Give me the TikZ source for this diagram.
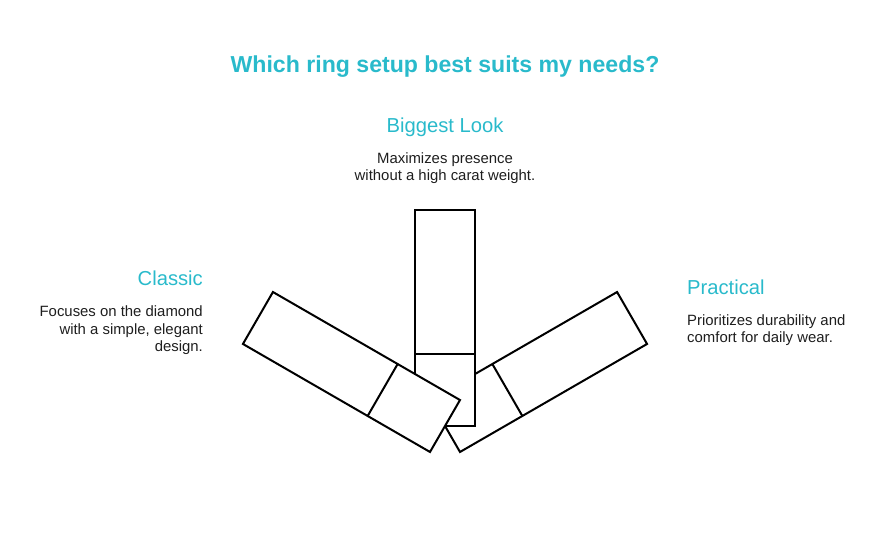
\documentclass[tikz,border=0pt]{standalone}
\usepackage{fontspec}
\setmainfont{Liberation Sans}
\definecolor{teal1}{HTML}{29BACB}
\definecolor{ink}{HTML}{1E1E1E}
\begin{document}
\begin{tikzpicture}[x=1pt,y=1pt,
  ringline/.style={draw=black,line width=2pt,line join=miter,fill=white},
  title/.style={font=\fontsize{23.1}{28}\selectfont\bfseries,text=teal1,inner sep=0},
  head/.style={font=\fontsize{20.2}{24}\selectfont,text=teal1,inner sep=0},
  desc/.style={font=\fontsize{14.9}{17.3}\selectfont,text=ink,inner sep=0}]
\useasboundingbox (0,0) rectangle (890,559);
\coordinate (pivot) at (445,133);
% right ring (drawn first, underneath)
\begin{scope}[rotate around={-60:(pivot)}]
  \draw[ringline] (415,133) rectangle (475,349);
  \draw[ringline] (415,205) -- (475,205);
\end{scope}
% vertical ring
\draw[ringline] (415,133) rectangle (475,349);
\draw[ringline] (415,205) -- (475,205);
% left ring (on top)
\begin{scope}[rotate around={60:(pivot)}]
  \draw[ringline] (415,133) rectangle (475,349);
  \draw[ringline] (415,205) -- (475,205);
\end{scope}
% texts (multi-line nodes: base = last line baseline)
\node[title,anchor=base] (t) at (445,559-73) {Which ring setup best suits my needs?};
\node[head,anchor=base] (bh) at (445,559-133) {Biggest Look};
\node[desc,anchor=base,align=center] (bd) at (445,559-181) {Maximizes presence\\without a high carat weight.};
\node[head,anchor=base east] (ch) at (203,559-286) {Classic};
\node[desc,anchor=base east,align=right] (cd) at (203,559-351.5) {Focuses on the diamond\\with a simple, elegant\\design.};
\node[head,anchor=base west] (ph) at (687,559-295) {Practical};
\node[desc,anchor=base west,align=left] (pd) at (687,559-342.5) {Prioritizes durability and\\comfort for daily wear.};
\end{tikzpicture}
\end{document}
